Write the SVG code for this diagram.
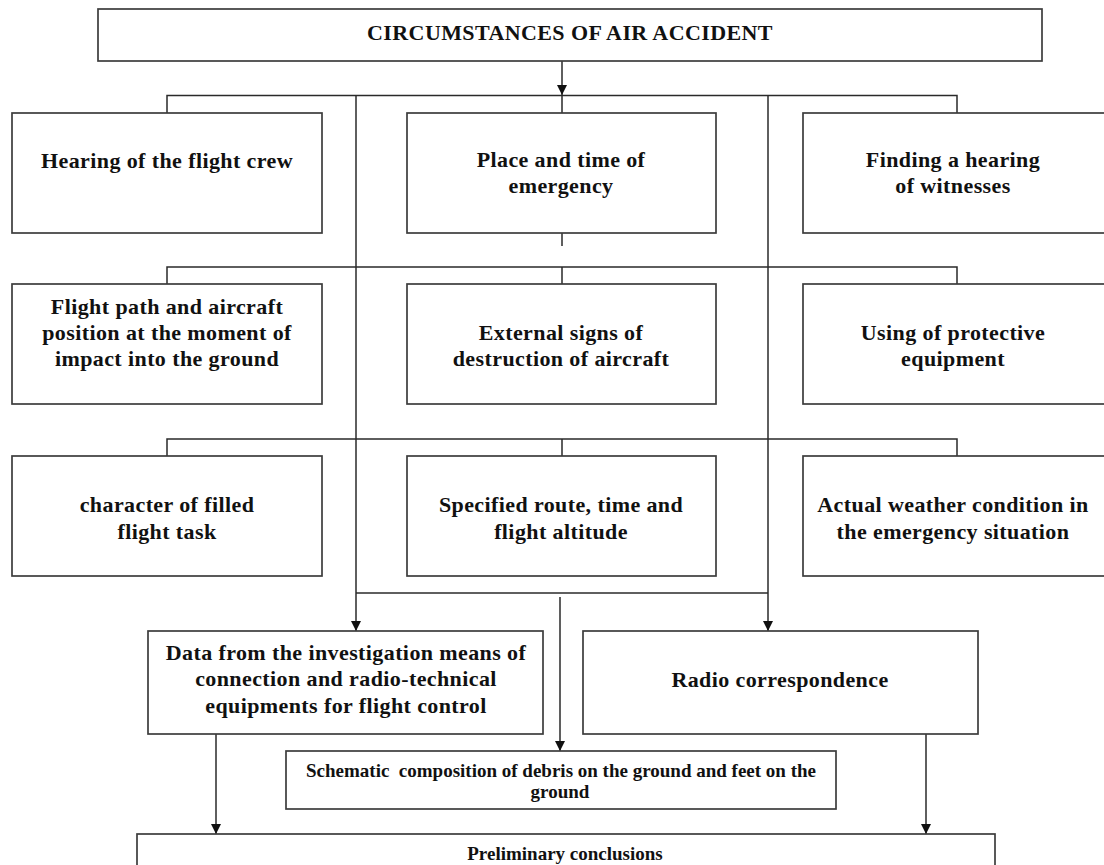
<svg xmlns="http://www.w3.org/2000/svg" width="1104" height="865" viewBox="0 0 1104 865">
<style>
.box{fill:#fff;stroke:#3c3c3c;stroke-width:1.7}
.ln{fill:none;stroke:#2a2a2a;stroke-width:1.5}
.t{font-family:"Liberation Serif","Times New Roman",serif;font-weight:bold;font-size:22px;letter-spacing:0.4px;fill:#111;text-anchor:middle}
.s{font-family:"Liberation Serif","Times New Roman",serif;font-weight:bold;font-size:19px;fill:#111;text-anchor:middle;white-space:pre}
</style>
<defs>
<marker id="ah" markerUnits="userSpaceOnUse" markerWidth="10" markerHeight="10" refX="10" refY="5" orient="auto" viewBox="0 0 10 10">
<path d="M0,0 L10,5 L0,10 z" fill="#111"/>
</marker>
</defs>
<rect width="1104" height="865" fill="#fff"/>
<g id="connectors">
<path class="ln" d="M562,61 V95" marker-end="url(#ah)"/>
<path class="ln" d="M167,113 V95.5 H957 V113 M562,95.5 V113"/>
<path class="ln" d="M356,95.5 V631" marker-end="url(#ah)"/>
<path class="ln" d="M768,95.5 V631" marker-end="url(#ah)"/>
<path class="ln" d="M562,233 V246"/>
<path class="ln" d="M167,284 V267 H957 V284 M562,267 V284"/>
<path class="ln" d="M167,456 V439 H957 V456 M562,439 V456"/>
<path class="ln" d="M356,593 H768"/>
<path class="ln" d="M560,597 V751" marker-end="url(#ah)"/>
<path class="ln" d="M216,734 V834" marker-end="url(#ah)"/>
<path class="ln" d="M926,734 V834" marker-end="url(#ah)"/>
</g>
<g id="title">
<rect class="box" x="98" y="9" width="944" height="52"/>
<text class="t" x="570" y="40">CIRCUMSTANCES OF AIR ACCIDENT</text>
</g>
<g id="hearing-crew">
<rect class="box" x="12" y="113" width="310" height="120"/>
<text class="t" x="167" y="168">Hearing of the flight crew</text>
</g>
<g id="place-time">
<rect class="box" x="407" y="113" width="309" height="120"/>
<text class="t" x="561" y="167">Place and time of</text>
<text class="t" x="561" y="193">emergency</text>
</g>
<g id="witnesses">
<rect class="box" x="803" y="113" width="303" height="120"/>
<text class="t" x="953" y="167">Finding a hearing</text>
<text class="t" x="953" y="193">of witnesses</text>
</g>
<g id="flight-path">
<rect class="box" x="12" y="284" width="310" height="120"/>
<text class="t" x="167" y="314">Flight path and aircraft</text>
<text class="t" x="167" y="340">position at the moment of</text>
<text class="t" x="167" y="366">impact into the ground</text>
</g>
<g id="external-signs">
<rect class="box" x="407" y="284" width="309" height="120"/>
<text class="t" x="561" y="340">External signs of</text>
<text class="t" x="561" y="366">destruction of aircraft</text>
</g>
<g id="protective">
<rect class="box" x="803" y="284" width="303" height="120"/>
<text class="t" x="953" y="340">Using of protective</text>
<text class="t" x="953" y="366">equipment</text>
</g>
<g id="flight-task">
<rect class="box" x="12" y="456" width="310" height="120"/>
<text class="t" x="167" y="512">character of filled</text>
<text class="t" x="167" y="539">flight task</text>
</g>
<g id="route">
<rect class="box" x="407" y="456" width="309" height="120"/>
<text class="t" x="561" y="512">Specified route, time and</text>
<text class="t" x="561" y="539">flight altitude</text>
</g>
<g id="weather">
<rect class="box" x="803" y="456" width="303" height="120"/>
<text class="t" x="953" y="512">Actual weather condition in</text>
<text class="t" x="953" y="539">the emergency situation</text>
</g>
<g id="data">
<rect class="box" x="148" y="631" width="395" height="103"/>
<text class="t" x="346" y="660">Data from the investigation means of</text>
<text class="t" x="346" y="686">connection and radio-technical</text>
<text class="t" x="346" y="713">equipments for flight control</text>
</g>
<g id="radio">
<rect class="box" x="583" y="631" width="395" height="103"/>
<text class="t" x="780" y="687">Radio correspondence</text>
</g>
<g id="schematic">
<rect class="box" x="286" y="751" width="550" height="58"/>
<text class="s" x="561" y="777">Schematic  composition of debris on the ground and feet on the</text>
<text class="s" x="560" y="798">ground</text>
</g>
<g id="preliminary">
<rect class="box" x="137" y="834" width="858" height="40"/>
<text class="s" x="565" y="860">Preliminary conclusions</text>
</g>
</svg>
